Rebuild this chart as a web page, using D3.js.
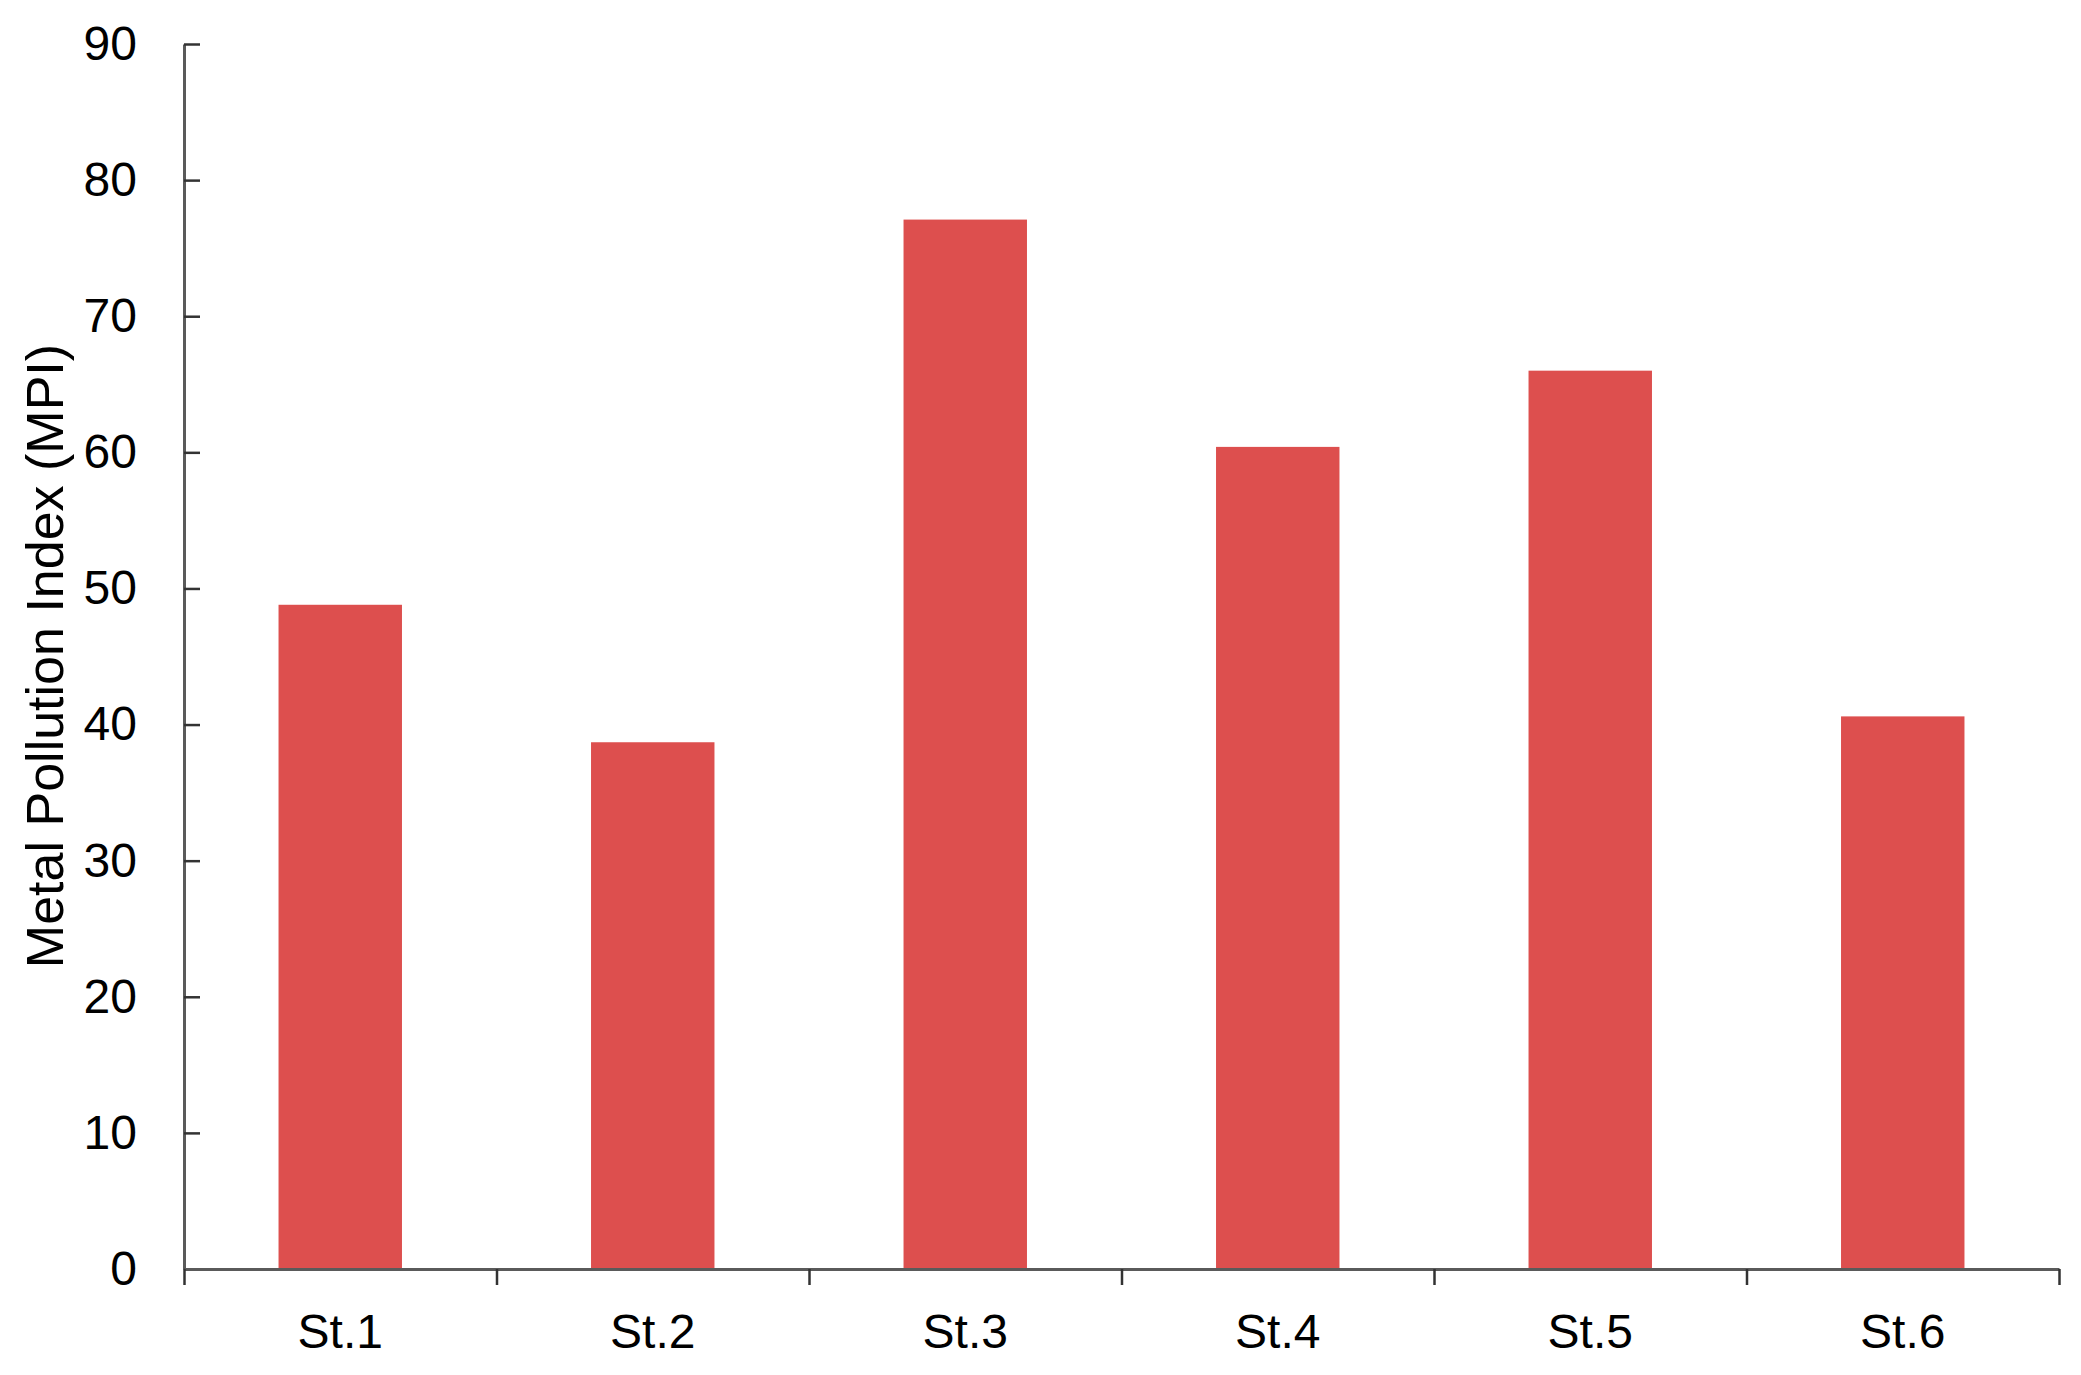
<!DOCTYPE html>
<html>
<head>
<meta charset="utf-8">
<script src="https://cdn.jsdelivr.net/npm/d3@7"></script>
<style>
  html, body { margin: 0; padding: 0; background: #ffffff; }
  svg { display: block; }
</style>
</head>
<body>
<svg id="chart" width="2081" height="1375"></svg>
<script>
const categories = ["St.1", "St.2", "St.3", "St.4", "St.5", "St.6"];
const mpiValues = [48.8, 38.7, 77.1, 60.4, 66.0, 40.6];
const yTicks = [0, 10, 20, 30, 40, 50, 60, 70, 80, 90];
const yTitle = "Metal Pollution Index (MPI)";

const W = 2081, H = 1375;
const margin = { left: 184, right: 22, top: 44, bottom: 106 };
const plotW = W - margin.left - margin.right;
const plotH = H - margin.top - margin.bottom;

const svg = d3.select("#chart");
const g = svg.append("g").attr("transform", `translate(${margin.left},${margin.top})`);

const x = d3.scaleBand().domain(categories).range([0, plotW]).padding(0);
const xEdge = d3.scaleLinear().domain([0, categories.length]).range([0, plotW]);
const y = d3.scaleLinear().domain([0, 90]).range([plotH, 0]);

const barFrac = 0.395;
const barW = x.bandwidth() * barFrac;

g.selectAll("rect.bar")
  .data(categories.map((c, i) => ({ c, v: mpiValues[i] })))
  .join("rect")
  .attr("class", "bar")
  .attr("x", d => x(d.c) + (x.bandwidth() - barW) / 2)
  .attr("width", barW)
  .attr("y", d => y(d.v))
  .attr("height", d => y(0) - y(d.v))
  .attr("fill", "#dd4f4e");

const fontFam = "'Liberation Sans', Arial, Helvetica, sans-serif";

// Y axis
const yAxis = g.append("g")
  .call(d3.axisLeft(y).tickValues(yTicks).tickSizeInner(-16).tickSizeOuter(0).tickPadding(47));
yAxis.select(".domain").attr("stroke", "#5a5a5a").attr("stroke-width", 3);
yAxis.selectAll(".tick line").attr("stroke", "#333").attr("stroke-width", 2.5);
yAxis.selectAll(".tick text")
  .attr("font-family", fontFam).attr("font-size", 48).attr("fill", "#000");

// X axis boundary ticks
const xTicksAxis = g.append("g")
  .attr("transform", `translate(0,${plotH})`)
  .call(d3.axisBottom(xEdge).tickValues(d3.range(categories.length + 1)).tickSizeInner(16).tickSizeOuter(0).tickFormat(""));
xTicksAxis.select(".domain").attr("stroke", "#5a5a5a").attr("stroke-width", 3);
xTicksAxis.selectAll(".tick line").attr("stroke", "#333").attr("stroke-width", 2.5);

// X axis labels
const xLabels = g.append("g")
  .attr("transform", `translate(0,${plotH})`)
  .call(d3.axisBottom(x).tickSize(0).tickPadding(45));
xLabels.select(".domain").remove();
xLabels.selectAll(".tick text")
  .attr("font-family", fontFam).attr("font-size", 48).attr("fill", "#000");

// Y title
svg.append("text")
  .attr("transform", `translate(63,656) rotate(-90)`)
  .attr("text-anchor", "middle")
  .attr("font-family", fontFam)
  .attr("font-size", 52)
  .attr("fill", "#000")
  .text(yTitle);
</script>
</body>
</html>
